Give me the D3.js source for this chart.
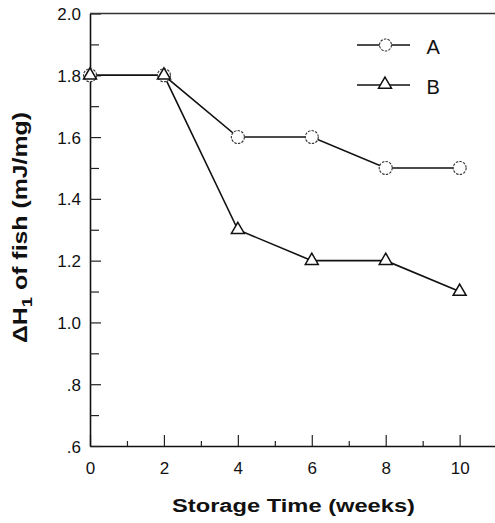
<!DOCTYPE html>
<html>
<head>
<meta charset="utf-8">
<script src="https://cdn.jsdelivr.net/npm/d3@7/dist/d3.min.js"></script>
<style>
  html, body { margin: 0; padding: 0; background: #fff; }
  svg { display: block; }
</style>
</head>
<body>
<svg id="chart" width="495" height="523"></svg>
<script>
// ---- data ----
const weeks = [0, 2, 4, 6, 8, 10];
const seriesA = [1.8, 1.8, 1.6, 1.6, 1.5, 1.5];
const seriesB = [1.8, 1.8, 1.3, 1.2, 1.2, 1.1];
const seriesNames = ["A", "B"];
const xMajorTicks = [0, 2, 4, 6, 8, 10];
const xMinorTicks = [1, 3, 5, 7, 9];
const yMajorTicks = [0.6, 0.8, 1.0, 1.2, 1.4, 1.6, 1.8, 2.0];
const yMinorTicks = [0.7, 0.9, 1.1, 1.3, 1.5, 1.7, 1.9];
const yTickLabels = [".6", ".8", "1.0", "1.2", "1.4", "1.6", "1.8", "2.0"];
const xTitle = "Storage Time (weeks)";

const svg = d3.select("#chart");
const font = "Arial, 'Liberation Sans', Helvetica, sans-serif";

const x = d3.scaleLinear().domain([0, 11]).range([90, 496.6]);
const y = d3.scaleLinear().domain([0.6, 2.0]).range([446, 13.5]);

// ---- axes ----
const gx = svg.append("g").attr("transform", `translate(0,${y(0.6)})`);
gx.call(d3.axisBottom(x).tickValues(xMajorTicks).tickSizeInner(-11).tickSizeOuter(0)
  .tickPadding(16).tickFormat(d3.format("d")));
gx.append("g").call(d3.axisBottom(x).tickValues(xMinorTicks).tickSizeInner(-5).tickSizeOuter(0).tickFormat(""))
  .select(".domain").remove();

const gy = svg.append("g").attr("transform", `translate(${x(0)},0)`);
gy.call(d3.axisLeft(y).tickValues(yMajorTicks).tickSizeInner(-11).tickSizeOuter(0)
  .tickPadding(9).tickFormat((d, i) => yTickLabels[i]));
gy.append("g").call(d3.axisLeft(y).tickValues(yMinorTicks).tickSizeInner(-9).tickSizeOuter(0).tickFormat(""))
  .select(".domain").remove();

svg.selectAll(".domain").attr("stroke", "#111").attr("stroke-width", 1.6);
svg.selectAll(".tick line").attr("stroke", "#222").attr("stroke-width", 1.2);
svg.selectAll(".tick text").attr("font-family", font).attr("font-size", 17).attr("fill", "#111");
gy.selectAll(".tick text").attr("dy", "0.36em");

// top border
svg.append("line")
  .attr("x1", x(0)).attr("x2", x(11)).attr("y1", y(2.0)).attr("y2", y(2.0))
  .attr("stroke", "#333").attr("stroke-width", 1.4);

// ---- series ----
const dataA = weeks.map((w, i) => ({ x: w, y: seriesA[i] }));
const dataB = weeks.map((w, i) => ({ x: w, y: seriesB[i] }));
const line = d3.line().x(d => x(d.x)).y(d => y(d.y));

[dataA, dataB].forEach(data => {
  svg.append("path").datum(data).attr("d", line)
    .attr("fill", "none").attr("stroke", "#111").attr("stroke-width", 1.6);
});

const tri = d3.symbol().type(d3.symbolTriangle).size(73);

svg.append("g").selectAll("circle").data(dataA).join("circle")
  .attr("cx", d => x(d.x)).attr("cy", d => y(d.y)).attr("r", 6.5)
  .attr("fill", "#fff").attr("stroke", "#333").attr("stroke-width", 1.1)
  .attr("stroke-dasharray", "2.5,1.2");

svg.append("g").selectAll("path").data(dataB).join("path")
  .attr("d", tri).attr("transform", d => `translate(${x(d.x)},${y(d.y)})`)
  .attr("fill", "#fff").attr("stroke", "#111").attr("stroke-width", 1.5);

// ---- legend ----
const leg = svg.append("g");
const legRows = [{ name: seriesNames[0], cy: 45, sym: "circle" }, { name: seriesNames[1], cy: 85, sym: "tri" }];
legRows.forEach(r => {
  leg.append("line").attr("x1", 357).attr("x2", 410).attr("y1", r.cy).attr("y2", r.cy)
    .attr("stroke", "#111").attr("stroke-width", 1.5);
  if (r.sym === "circle") {
    leg.append("circle").attr("cx", 385.5).attr("cy", r.cy).attr("r", 6)
      .attr("fill", "#fff").attr("stroke", "#333").attr("stroke-width", 1.1)
      .attr("stroke-dasharray", "2.5,1.2");
  } else {
    leg.append("path").attr("d", tri).attr("transform", `translate(385,${r.cy - 0.5})`)
      .attr("fill", "#fff").attr("stroke", "#111").attr("stroke-width", 1.5);
  }
  leg.append("text").attr("x", 426.5).attr("y", r.cy + 9).text(r.name)
    .attr("font-family", font).attr("font-size", 20).attr("fill", "#111");
});

// ---- titles ----
svg.append("text").attr("x", 172).attr("y", 512)
  .attr("font-family", font).attr("font-size", 18).attr("font-weight", "bold")
  .attr("textLength", 243).attr("lengthAdjust", "spacingAndGlyphs")
  .attr("fill", "#111").text(xTitle);

const yt = svg.append("text")
  .attr("transform", "translate(27,343) rotate(-90)")
  .attr("x", 0).attr("y", 0)
  .attr("font-family", font).attr("font-size", 20).attr("font-weight", "bold")
  .attr("textLength", 231).attr("lengthAdjust", "spacingAndGlyphs")
  .attr("fill", "#111");
yt.append("tspan").text("\u0394H");
yt.append("tspan").attr("dy", 5).attr("font-size", 15).text("1");
yt.append("tspan").attr("dy", -5).text(" of fish (mJ/mg)");
</script>
</body>
</html>
